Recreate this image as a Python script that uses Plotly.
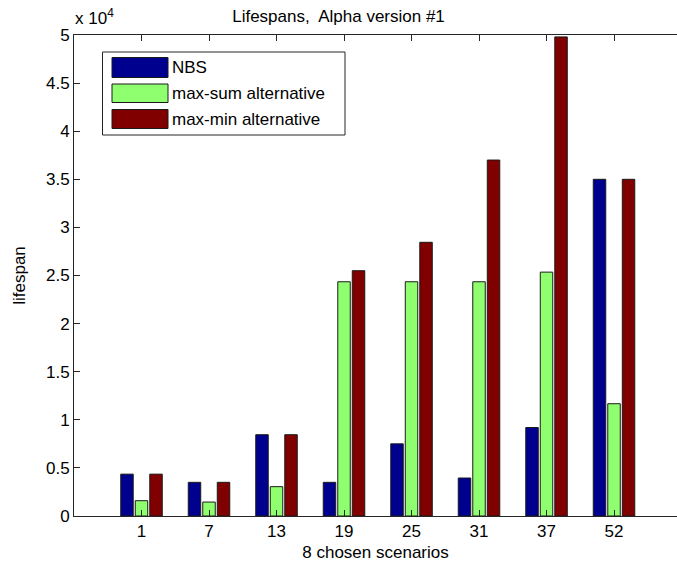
import plotly.graph_objects as go

# Scenario labels and lifespans for each strategy
scenarios = ["1", "7", "13", "19", "25", "31", "37", "52"]
nbs = [4350, 3500, 8450, 3500, 7500, 3950, 9200, 35000]
max_sum = [1590, 1450, 3050, 24350, 24350, 24350, 25350, 11670]
max_min = [4350, 3500, 8450, 25500, 28450, 37000, 49800, 35000]

series_names = ["NBS", "max-sum alternative", "max-min alternative"]
series_colors = ["#00008F", "#8FFF70", "#800000"]
series_values = [nbs, max_sum, max_min]

y_ticks = [0, 5000, 10000, 15000, 20000, 25000, 30000, 35000, 40000, 45000, 50000]
y_tick_text = ["0", "0.5", "1", "1.5", "2", "2.5", "3", "3.5", "4", "4.5", "5"]

W, H = 677, 568
ML, MT, MB, MR = 74, 35, 52, 0
PW, PH = W - ML - MR, H - MT - MB
FONT = "Liberation Sans, Arial, Helvetica, sans-serif"
FS = 17
INK = "#262626"

positions = list(range(1, len(scenarios) + 1))

fig = go.Figure()
for name, color, vals in zip(series_names, series_colors, series_values):
    fig.add_trace(go.Bar(
        x=positions, y=vals, name=name,
        marker=dict(color=color, line=dict(color="#1a1a1a", width=1)),
        showlegend=False,
    ))

# MATLAB-style legend box drawn in paper coordinates
def px(xp):
    return (xp - ML) / PW

def py(yp):
    return (H - MB - yp) / PH

shapes = [dict(type="rect", xref="paper", yref="paper",
               x0=px(102.5), x1=px(345), y0=py(135), y1=py(52),
               line=dict(color=INK, width=1), fillcolor="white", layer="above")]
annotations = []
rows = [(57.5, 77.5), (84, 102.5), (109.5, 128.5)]
for (top, bot), name, color in zip(rows, series_names, series_colors):
    shapes.append(dict(type="rect", xref="paper", yref="paper",
                       x0=px(112), x1=px(168), y0=py(bot), y1=py(top),
                       line=dict(color="#1a1a1a", width=1), fillcolor=color, layer="above"))
    annotations.append(dict(xref="paper", yref="paper", x=px(170), y=py((top + bot) / 2),
                            text=name, showarrow=False, xanchor="left", yanchor="middle",
                            font=dict(family=FONT, size=FS, color="black")))

# exponent marker above the y axis
annotations.append(dict(xref="paper", yref="paper", x=px(73), y=py(30),
                        text="x 10<sup>4</sup>", showarrow=False,
                        xanchor="left", yanchor="bottom",
                        font=dict(family=FONT, size=FS, color="black")))

fig.update_layout(
    width=W, height=H,
    margin=dict(l=ML, r=MR, t=MT, b=MB, pad=0),
    paper_bgcolor="white", plot_bgcolor="white",
    barmode="group", bargap=0.355, bargroupgap=0.14,
    font=dict(family=FONT, size=FS, color="black"),
    title=dict(text="Lifespans,\u00a0 Alpha version #1", x=0.5, xanchor="center",
               y=1 - 16 / H, yanchor="middle", font=dict(family=FONT, size=FS)),
    shapes=shapes, annotations=annotations,
    xaxis=dict(
        range=[0, (W - MR - ML + 0.6) / 67.57],
        tickmode="array", tickvals=positions, ticktext=scenarios,
        ticks="inside", ticklen=6, tickcolor=INK, tickwidth=1,
        showline=True, linecolor=INK, linewidth=1, mirror="ticks",
        showgrid=False, zeroline=False,
        tickfont=dict(family=FONT, size=FS),
        title=dict(text="8 chosen scenarios", standoff=5, font=dict(family=FONT, size=FS)),
        fixedrange=True,
    ),
    yaxis=dict(
        range=[0, 50000],
        tickmode="array", tickvals=y_ticks, ticktext=y_tick_text,
        ticks="inside", ticklen=6, tickcolor=INK, tickwidth=1,
        showline=True, linecolor=INK, linewidth=1,
        showgrid=False, zeroline=False,
        tickfont=dict(family=FONT, size=FS),
        title=dict(text="lifespan", standoff=16, font=dict(family=FONT, size=FS)),
        fixedrange=True,
    ),
)

fig.write_html("out.html")
